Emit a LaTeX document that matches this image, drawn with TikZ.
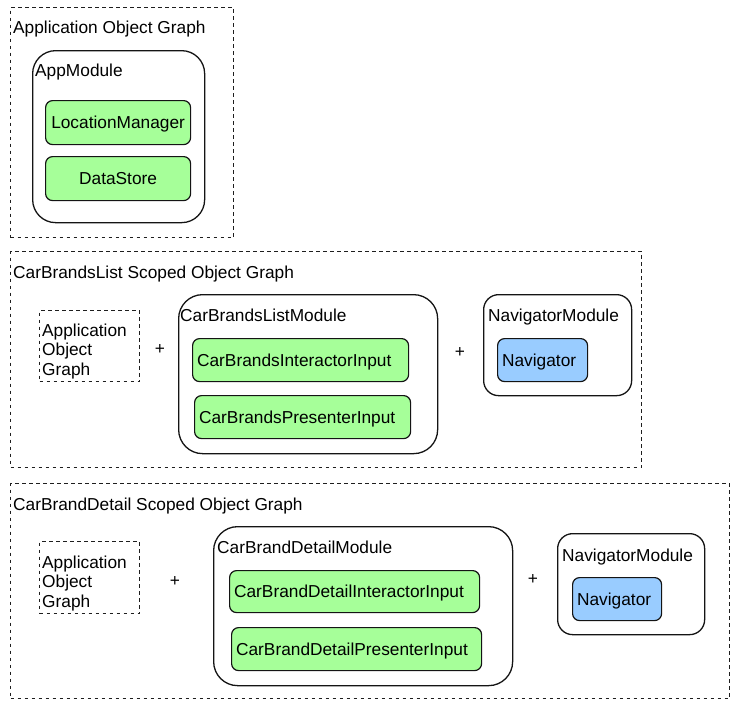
\documentclass[tikz,border=0pt]{standalone}
\usepackage{fontspec}
\setmainfont{Liberation Sans}
\definecolor{gfill}{RGB}{166,255,153}
\definecolor{bfill}{RGB}{153,204,255}
\definecolor{edge}{RGB}{20,20,20}
\definecolor{dedge}{RGB}{30,30,30}
\begin{document}
\begin{tikzpicture}[x=1pt,y=-1pt,
  every node/.style={font=\fontsize{17.3}{19.7}\selectfont, inner sep=0pt, text=black},
  dbox/.style={draw=dedge, line width=1.4pt, dash pattern=on 3.5pt off 3.5pt, anchor=north west},
  modbox/.style={draw=edge, line width=1.3pt, anchor=north west, fill=white},
  gbox/.style={draw=edge, line width=1.2pt, fill=gfill, rounded corners=7pt, anchor=north west,
               text height=12.5pt, text depth=0pt},
  bbox/.style={draw=edge, line width=1.2pt, fill=bfill, rounded corners=7pt, anchor=north west,
               text height=12.5pt, text depth=0pt},
  lefttext/.style={align=left, inner xsep=4.5pt},
  lbl/.style={anchor=base west},
  plus/.style={anchor=base},
  multi/.style={anchor=north west, align=left}
]
\useasboundingbox (0,0) rectangle (737,707);

% ---------- Section 1 ----------
\node[dbox, minimum width=223pt, minimum height=230pt] (g1) at (10,7) {};
\node[lbl] (t1) at (13,33) {Application Object Graph};
\node[modbox, rounded corners=23pt, minimum width=172pt, minimum height=172pt] (appm) at (32,50) {};
\node[lbl] (appml) at (35,76) {AppModule};
\node[gbox, minimum width=145pt, minimum height=44pt] (lm) at (45,100) {LocationManager};
\node[gbox, minimum width=145pt, minimum height=44pt] (ds) at (45,156) {DataStore};

% ---------- Section 2 ----------
\node[dbox, minimum width=631pt, minimum height=216pt] (g2) at (10,251) {};
\node[lbl] (t2) at (13,278) {CarBrandsList Scoped Object Graph};
\node[dbox, minimum width=100pt, minimum height=71pt] (a2) at (39,310) {};
\node[multi] (a2l) at (42,323.5) {Application\\Object\\Graph};
\node[plus] (p21) at (160,354) {+};
\node[modbox, rounded corners=24pt, minimum width=259pt, minimum height=159pt] (cblm) at (178,294) {};
\node[lbl] (cblml) at (180,321) {CarBrandsListModule};
\node[gbox, lefttext, text width=207pt, minimum height=43pt] (cbi) at (192,338) {CarBrandsInteractorInput};
\node[gbox, lefttext, text width=207pt, minimum height=43pt] (cbp) at (194,395) {CarBrandsPresenterInput};
\node[plus] (p22) at (460,357) {+};
\node[modbox, rounded corners=15pt, minimum width=148pt, minimum height=101pt] (nm2) at (483,294) {};
\node[lbl] (nm2l) at (488,321) {NavigatorModule};
\node[bbox, lefttext, text width=81pt, minimum height=43pt] (nav2) at (497,338) {Navigator};

% ---------- Section 3 ----------
\node[dbox, minimum width=719pt, minimum height=215pt] (g3) at (10,483) {};
\node[lbl] (t3) at (13,510) {CarBrandDetail Scoped Object Graph};
\node[dbox, minimum width=100pt, minimum height=72pt] (a3) at (39,541) {};
\node[multi] (a3l) at (42,555.5) {Application\\Object\\Graph};
\node[plus] (p31) at (175,586) {+};
\node[modbox, rounded corners=24pt, minimum width=299pt, minimum height=159pt] (cbdm) at (213,526) {};
\node[lbl] (cbdml) at (217,553) {CarBrandDetailModule};
\node[gbox, lefttext, text width=241pt, minimum height=42pt] (cbdi) at (229,570) {CarBrandDetailInteractorInput};
\node[gbox, lefttext, text width=241pt, minimum height=43pt] (cbdp) at (231,627) {CarBrandDetailPresenterInput};
\node[plus] (p32) at (533,584) {+};
\node[modbox, rounded corners=15pt, minimum width=147pt, minimum height=101pt] (nm3) at (557,533) {};
\node[lbl] (nm3l) at (562,561) {NavigatorModule};
\node[bbox, lefttext, text width=80pt, minimum height=43pt] (nav3) at (572,577) {Navigator};
\end{tikzpicture}
\end{document}
